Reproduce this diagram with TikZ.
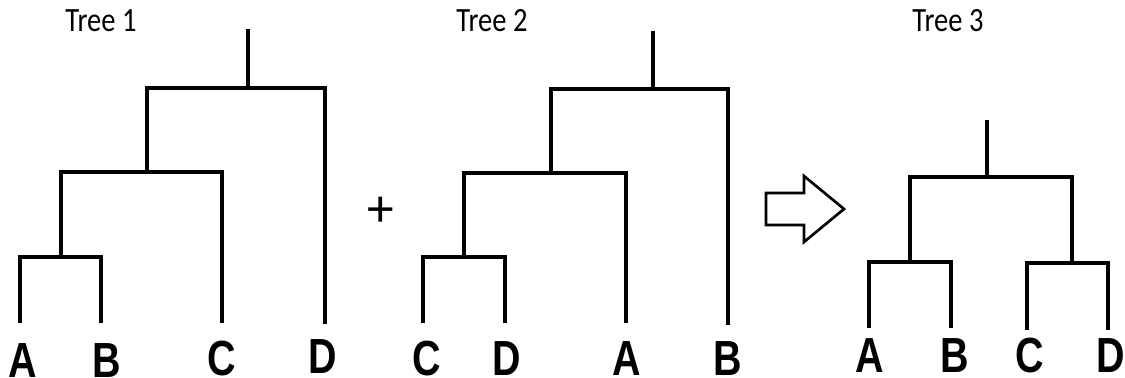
\documentclass[tikz,border=0pt]{standalone}
\usepackage{fontspec}
\setmainfont{Carlito}
\newfontfamily\leaffont{Liberation Sans}
\usepackage{tikz}
\usetikzlibrary{calc,positioning}
\definecolor{inkc}{HTML}{000000}
\tikzset{
  br/.style={line width=2.4pt,inkc},
  tip/.style={anchor=base,xscale=0.8,inner sep=0pt,text depth=0pt,font=\leaffont\bfseries\fontsize{37}{40}\selectfont},
  ttl/.style={anchor=base,xscale=0.84,inner sep=0pt,font=\fontsize{25.5}{28}\selectfont},
  bigarrow/.style={line width=2pt,inkc,line join=miter,fill=white}
}

\begin{document}
\begin{tikzpicture}[x=0.75pt,y=-0.75pt]
\useasboundingbox (0,0) rectangle (1125,378);
% tree 1: ((A,B),C),D
\coordinate (t1a) at (20,323);
\coordinate (t1b) at (101,323);
\coordinate (t1c) at (222,323);
\coordinate (t1d) at (325,324);
\coordinate (t1n1) at (61,257);
\coordinate (t1n2) at (147,172);
\coordinate (t1n3) at (248,88);
\coordinate (t1top) at (248,29);
\draw[br] (t1a) |- (t1n1) -| (t1b);
\draw[br] (t1n1) |- (t1n2) -| (t1c);
\draw[br] (t1n2) |- (t1n3) -| (t1d);
\draw[br] (t1n3) -- (t1top);
\node[tip] (l1a) at (23,377) {A};
\node[tip] (l1b) at (107,377) {B};
\node[tip] (l1c) at (222,375) {C};
\node[tip] (l1d) at (323,373) {D};
\node[ttl] (ttl1) at (101,32) {Tree 1};
% tree 2: ((C,D),A),B
\coordinate (t2c) at (423,323);
\coordinate (t2d) at (505,323);
\coordinate (t2a) at (626,323);
\coordinate (t2b) at (728,325);
\coordinate (t2n1) at (464,257);
\coordinate (t2n2) at (551,173);
\coordinate (t2n3) at (653,89);
\coordinate (t2top) at (653,31);
\draw[br] (t2c) |- (t2n1) -| (t2d);
\draw[br] (t2n1) |- (t2n2) -| (t2a);
\draw[br] (t2n2) |- (t2n3) -| (t2b);
\draw[br] (t2n3) -- (t2top);
\node[tip] (l2c) at (427,375) {C};
\node[tip] (l2d) at (507,375) {D};
\node[tip] (l2a) at (627,375) {A};
\node[tip] (l2b) at (728,375) {B};
\node[ttl] (ttl2) at (492,32) {Tree 2};
\node[inner sep=0pt,font=\fontsize{40}{42}\selectfont] (plus) at (381,212) {+};
% hollow arrow
\draw[bigarrow] (766,193) -- (804,193) -- (804,176) -- (844,209) -- (804,242)
  -- (804,225) -- (766,225) -- cycle;
% tree 3: (A,B),(C,D)
\coordinate (t3a) at (869,328);
\coordinate (t3b) at (951,328);
\coordinate (t3c) at (1027,330);
\coordinate (t3d) at (1108,330);
\coordinate (t3l) at (910,262);
\coordinate (t3r) at (1072,263);
\coordinate (t3root) at (987,177);
\coordinate (t3top) at (987,120);
\draw[br] (t3a) |- (t3l) -| (t3b);
\draw[br] (t3c) |- (t3r) -| (t3d);
\draw[br] (t3l) |- (t3root) -| (t3r);
\draw[br] (t3root) -- (t3top);
\node[tip] (l3a) at (870,372) {A};
\node[tip] (l3b) at (955,372) {B};
\node[tip] (l3c) at (1030,372) {C};
\node[tip] (l3d) at (1111,372) {D};
\node[ttl] (ttl3) at (948,32) {Tree 3};
\end{tikzpicture}
\end{document}
